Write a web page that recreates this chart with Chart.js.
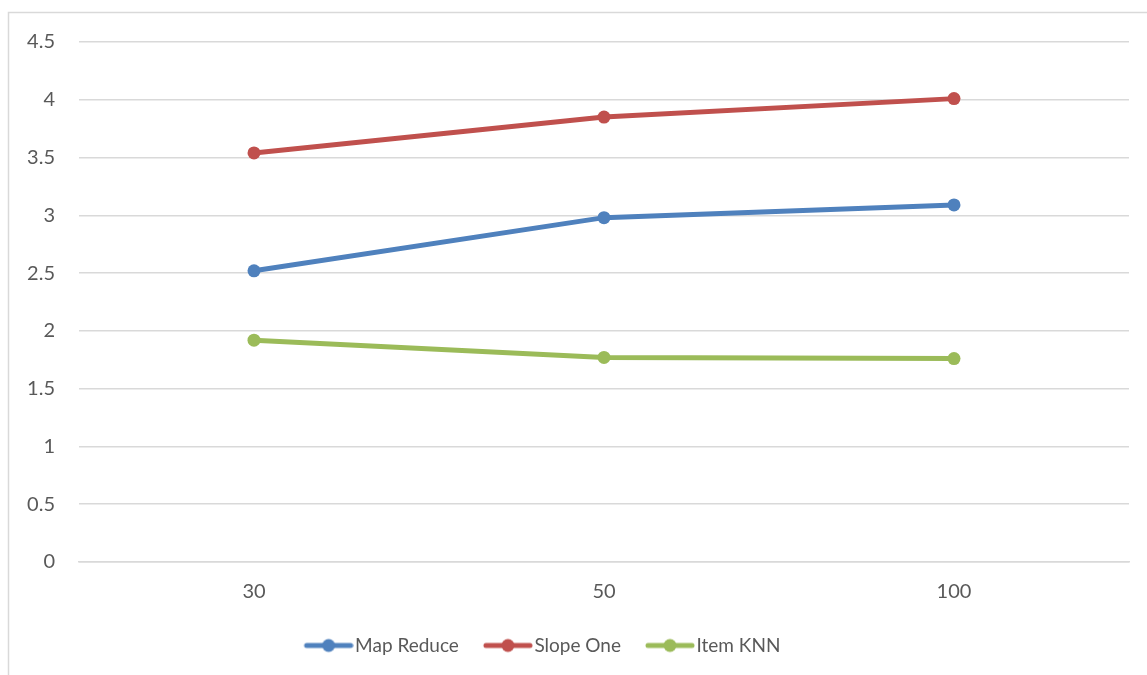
<!DOCTYPE html>
<html>
<head>
<meta charset="utf-8">
<script src="https://cdn.jsdelivr.net/npm/chart.js@4.4.1/dist/chart.umd.min.js"></script>
<style>
  html, body { margin: 0; padding: 0; background: #ffffff; }
  #wrap { position: relative; width: 1147px; height: 675px; }
</style>
</head>
<body>
<div id="wrap"><canvas id="chart" width="1147" height="675"></canvas></div>
<script>
// Sample sizes on the category axis
const categories = ['30', '50', '100'];

// Series values
const mapReduce = [2.52, 2.98, 3.09];
const slopeOne = [3.54, 3.85, 4.01];
const itemKnn = [1.92, 1.77, 1.76];

// Value axis range and step
const yMin = 0;
const yMax = 4.5;
const yStep = 0.5;

const seriesNames = ['Map Reduce', 'Slope One', 'Item KNN'];
const seriesColors = ['#4F81BD', '#C0504D', '#9BBB59'];

const FONT = 'Lato, "Open Sans", sans-serif';
const TEXT_COLOR = '#595959';
const GRID_COLOR = '#d9d9d9';

// Legend box width and swatch: a short line with a dot in the middle,
// sitting at the right of a transparent canvas so it ends just before the text
const LEGEND_BOX = 47;
function legendSwatch(color) {
  const c = document.createElement('canvas');
  c.width = LEGEND_BOX + 16; c.height = 16;
  const g = c.getContext('2d');
  const x1 = c.width - 3, x0 = x1 - 44;
  g.strokeStyle = color;
  g.lineWidth = 5;
  g.lineCap = 'round';
  g.beginPath();
  g.moveTo(x0, 8); g.lineTo(x1, 8);
  g.stroke();
  g.fillStyle = color;
  g.beginPath();
  g.arc((x0 + x1) / 2, 8, 6.5, 0, Math.PI * 2);
  g.fill();
  return c;
}
const swatches = seriesColors.map(legendSwatch);

// Light frame around the chart
const framePlugin = {
  id: 'frame',
  beforeDraw(chart) {
    const ctx = chart.ctx;
    ctx.save();
    ctx.strokeStyle = '#d9d9d9';
    ctx.lineWidth = 1.5;
    ctx.strokeRect(8.5, 12.5, 1200, 700);
    ctx.restore();
  }
};

// Nudge the legend row a little to the left
const legendShift = {
  id: 'legendShift',
  afterLayout(chart) {
    const lg = chart.legend;
    if (lg) { lg.left -= 25; lg.right -= 25; }
  }
};

const seriesData = [mapReduce, slopeOne, itemKnn];

new Chart(document.getElementById('chart'), {
  type: 'line',
  data: {
    labels: categories,
    datasets: seriesData.map((vals, i) => ({
      label: seriesNames[i],
      data: vals,
      borderColor: seriesColors[i],
      backgroundColor: seriesColors[i],
      borderWidth: 5,
      pointRadius: 6.5,
      pointHoverRadius: 6.5,
      pointBorderWidth: 0,
      pointBackgroundColor: seriesColors[i],
      tension: 0,
      fill: false
    }))
  },
  options: {
    responsive: false,
    animation: false,
    events: [],
    layout: { padding: { left: 0, right: 18, top: 42, bottom: 10 } },
    scales: {
      x: {
        offset: true,
        grid: { display: false, drawTicks: false },
        border: { display: true, color: GRID_COLOR, width: 1.5 },
        ticks: { color: TEXT_COLOR, font: { family: FONT, size: 20 }, padding: 18 },
        afterFit(scale) { scale.height = 55; }
      },
      y: {
        min: yMin,
        max: yMax,
        ticks: {
          stepSize: yStep,
          color: TEXT_COLOR,
          font: { family: FONT, size: 20 },
          padding: 24,
          callback: (v) => String(v)
        },
        grid: { color: GRID_COLOR, lineWidth: 1.5, drawTicks: false },
        border: { display: false },
        afterFit(scale) { scale.width = 79; }
      }
    },
    plugins: {
      tooltip: { enabled: false },
      legend: {
        position: 'bottom',
        labels: {
          usePointStyle: true,
          pointStyleWidth: LEGEND_BOX,
          padding: 19,
          color: TEXT_COLOR,
          font: { family: FONT, size: 19 },
          generateLabels(chart) {
            const items = Chart.defaults.plugins.legend.labels.generateLabels(chart);
            items.forEach((it, i) => { it.pointStyle = swatches[i]; });
            return items;
          }
        }
      }
    }
  },
  plugins: [framePlugin, legendShift]
});
</script>
</body>
</html>
